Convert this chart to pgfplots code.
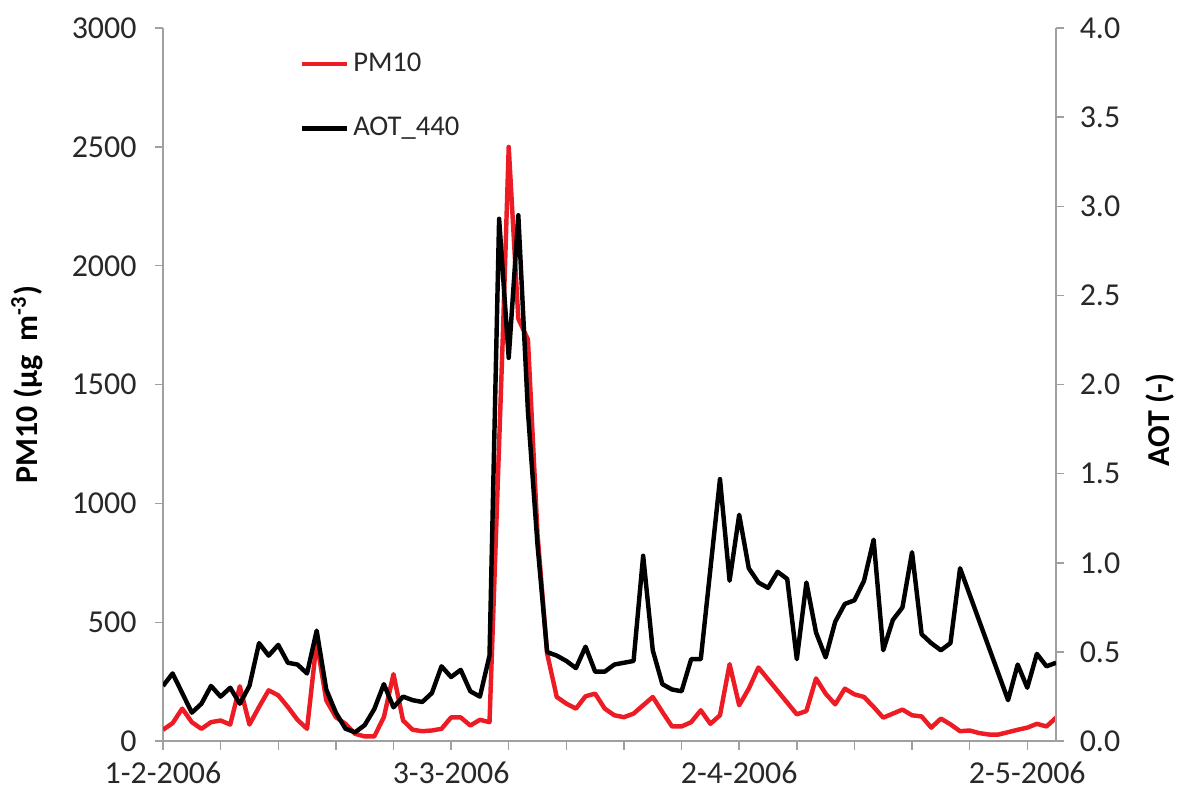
\documentclass[border=0pt]{standalone}
\usepackage{fontspec}
\setmainfont{Carlito}
\usepackage{pgfplots}
\pgfplotsset{compat=1.18}

\definecolor{pmred}{RGB}{237,28,36}
\definecolor{axgray}{RGB}{160,160,160}
\definecolor{txt}{RGB}{40,40,40}

\begin{document}
\begin{tikzpicture}
\pgfplotsset{
  base/.style={
    scale only axis, width=321.6pt, height=256.8pt,
    xmin=0, xmax=93,
    tick align=outside, major tick length=3pt, minor tick length=3pt,
    every tick/.style={axgray, line width=0.5pt},
    axis line style={axgray, line width=0.6pt, -},
    tick label style={font=\fontsize{11.5}{13}\selectfont, text=txt},
    label style={font=\fontsize{11.5}{13}\selectfont\bfseries},
    /pgf/number format/assume math mode=true,
    /pgf/number format/1000 sep={},
  }
}
% PM10, left axis
\begin{axis}[base, name=ax,
  axis y line*=left, axis x line*=bottom,
  ymin=0, ymax=3000, ytick={0,500,1000,1500,2000,2500,3000},
  yticklabel style={xshift=-3pt},
  xtick={0,30,60,90}, minor xtick={6,12,18,24,36,42,48,54,66,72,78,84},
  xticklabels={1-2-2006,3-3-2006,2-4-2006,2-5-2006},
  xticklabel style={yshift=-1pt},
  ylabel={PM10 (µg\ \ m\textsuperscript{-3})},
  ylabel style={at={(axis description cs:-0.152,0.5)}, anchor=center},
]
\addplot[pmred, line width=1.6pt, line join=round] coordinates {
(0,48) (1,76) (2,137) (3,80) (4,52) (5,80) (6,87) (7,70) (8,231) (9,70)
(10,144) (11,214) (12,193) (13,144) (14,90) (15,52) (16,418) (17,172) (18,101) (19,73)
(20,31) (21,20) (22,20) (23,101) (24,282) (25,87) (26,48) (27,42) (28,45) (29,52)
(30,100) (31,100) (32,66) (33,90) (34,80) (35.4,1720) (36,2500) (37,1777) (38,1690) (39,870)
(40,369) (41,186) (42,158) (43,137) (44,189) (45,200) (46,137) (47,109) (48,101) (49,116)
(50,151) (51,186) (52,123) (53,62) (54,62) (55,80) (56,130) (57,73) (58,109) (59,324)
(60,151) (61,221) (62,310) (66,113) (67,127) (68,264) (69,200)
(70,155) (71,221) (72,197) (73,186) (74,144) (75,99) (76,116) (77,133) (78,109) (79,104)
(80,57) (81,95) (82,71) (83,42) (84,45) (85,34) (86,28) (87,28) (88,38) (89,48)
(90,57) (91,73) (92,62) (93,99)
};
\end{axis}
% AOT, right axis
\begin{axis}[base,
  axis y line*=right, axis x line=none,
  ymin=0, ymax=4, ytick={0,0.5,1,1.5,2,2.5,3,3.5,4},
  yticklabel style={xshift=2pt, /pgf/number format/.cd, fixed, fixed zerofill, precision=1},
  ylabel={AOT (-)},
  ylabel style={at={(axis description cs:1.116,0.45)}, anchor=center},
  legend style={at={(axis description cs:0.153,0.972)}, anchor=north west,
    draw=none, fill=none, inner sep=0pt, row sep=12pt,
    font=\fontsize{10.3}{12}\selectfont, text=txt, nodes={inner sep=1.5pt}},
  legend cell align=left,
  legend image code/.code={\draw[#1] (0pt,0pt) -- (16pt,0pt);},
]
\addlegendimage{pmred, line width=1.6pt}
\addlegendentry{PM10}
\addplot[black, line width=1.6pt, line join=round] coordinates {
(0,0.31) (1,0.38) (3,0.16) (4,0.21) (5,0.31) (6,0.25) (7,0.30) (8,0.21) (9,0.31)
(10,0.55) (11,0.48) (12,0.54) (13,0.44) (14,0.43) (15,0.38) (16,0.62) (17,0.29) (18,0.16) (19,0.07)
(20,0.05) (21,0.09) (22,0.18) (23,0.32) (24,0.19) (25,0.25) (26,0.23) (27,0.22) (28,0.27) (29,0.42)
(30,0.36) (31,0.40) (32,0.28) (33,0.25) (34,0.48) (35,2.93) (36,2.15) (37,2.95) (38,1.85) (39,1.10)
(40,0.50) (41,0.48) (42,0.45) (43,0.41) (44,0.53) (45,0.39) (46,0.39) (47,0.43) (48,0.44) (49,0.45)
(50,1.04) (51,0.51) (52,0.32) (53,0.29) (54,0.28) (55,0.46) (56,0.46) (58,1.47) (59,0.90)
(60,1.27) (61,0.97) (62,0.89) (63,0.86) (64,0.95) (65,0.91) (66,0.46) (67,0.89) (68,0.61) (69,0.47)
(70,0.67) (71,0.77) (72,0.79) (73,0.90) (74,1.13) (75,0.51) (76,0.68) (77,0.75) (78,1.06) (79,0.60)
(80,0.55) (81,0.51) (82,0.55) (83,0.97) (88,0.23) (89,0.43)
(90,0.30) (91,0.49) (92,0.42) (93,0.44)
};
\addlegendentry{AOT\_440}
\end{axis}
\pgfresetboundingbox
\path ([xshift=-58.7pt,yshift=-21.6pt]ax.south west) rectangle ([xshift=45.7pt,yshift=10.1pt]ax.north east);
\end{tikzpicture}
\end{document}
